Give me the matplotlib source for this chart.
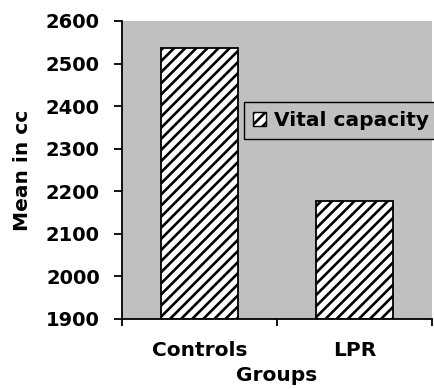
import matplotlib.pyplot as plt
from matplotlib.patches import Patch

groups = ['Controls', 'LPR']
vital_capacity = [2537, 2178]
y_ticks = [1900, 2000, 2100, 2200, 2300, 2400, 2500, 2600]

plt.rcParams['font.family'] = 'DejaVu Sans'
plt.rcParams['font.weight'] = 'bold'
plt.rcParams['hatch.linewidth'] = 1.9

fig = plt.figure(figsize=(4.35, 3.89), dpi=100)
ax = fig.add_axes([122 / 435, 70 / 389, 310 / 435, 298 / 389])
ax.set_facecolor('#c0c0c0')

x = range(len(groups))
ax.bar(x, [v - 1900 for v in vital_capacity], bottom=1900, width=0.5,
       color='white', edgecolor='black', linewidth=1.3, hatch='///')

ax.set_xlim(-0.5, 1.5)
ax.set_ylim(1900, 2600)
ax.set_yticks(y_ticks)
ax.tick_params(axis='y', direction='out', length=6, width=1.3, pad=10, labelsize=14)

# group labels sit between the boundary tick marks
ax.set_xticks(list(x))
ax.set_xticklabels(groups)
ax.tick_params(axis='x', which='major', length=0, pad=16, labelsize=14.5)
ax.set_xticks([-0.5, 0.5, 1.5], minor=True)
ax.tick_params(axis='x', which='minor', direction='out', length=5, width=1.3)

for side in ['top', 'right']:
    ax.spines[side].set_visible(False)
for side in ['left', 'bottom']:
    ax.spines[side].set_linewidth(1.3)

ax.set_xlabel('Groups', fontsize=14.5, fontweight='bold', labelpad=4)
ax.set_ylabel('Mean in cc', fontsize=14.5, fontweight='bold', labelpad=10)

handle = Patch(facecolor='white', edgecolor='black', hatch='///', linewidth=1)
fig.legend([handle], ['Vital capacity'], loc='upper left',
           bbox_to_anchor=(244 / 435, 1 - 102 / 389), frameon=True,
           fancybox=False, edgecolor='black', facecolor='#c0c0c0',
           framealpha=1, fontsize=14.5, handlelength=0.65, handleheight=0.65,
           handletextpad=0.4, borderpad=0.45, borderaxespad=0)

fig.savefig('out.png', dpi=100)
